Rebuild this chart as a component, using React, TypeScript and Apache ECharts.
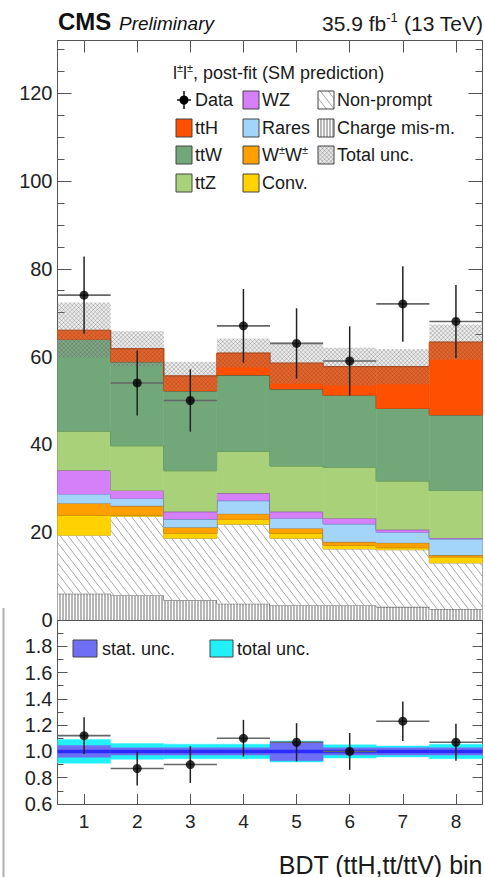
import React, { useEffect, useRef } from "react";
import * as echarts from "echarts";

// ---------------- data ----------------
const binLabels = ["1", "2", "3", "4", "5", "6", "7", "8"];
const chargeMisId = [6.0, 5.6, 4.5, 3.7, 3.3, 3.3, 3.0, 2.5];
const nonPrompt = [13.3, 18.0, 14.1, 18.1, 15.3, 12.9, 13.0, 10.5];
const conv = [4.6, 0.3, 1.2, 1.1, 1.2, 0.8, 0.5, 1.3];
const wpmwpm = [2.7, 2.1, 1.3, 1.3, 1.1, 0.8, 1.1, 0.5];
const rares = [2.1, 1.7, 1.9, 3.0, 2.3, 4.1, 2.4, 3.7];
const wz = [5.4, 1.8, 1.7, 1.7, 1.5, 1.3, 0.6, 0.2];
const ttZ = [8.9, 10.2, 9.3, 9.5, 10.4, 11.6, 11.1, 10.8];
const ttW = [20.9, 19.1, 18.2, 17.4, 17.5, 16.4, 16.5, 17.2];
const ttH = [2.1, 3.0, 3.4, 5.0, 5.9, 6.5, 9.5, 16.6];
const totalUnc = [6.3, 4.0, 3.2, 3.3, 4.7, 4.3, 4.0, 4.0];
const dataCounts = [74, 54, 50, 67, 63, 59, 72, 68];
const dataErr = [8.8, 7.4, 7.1, 8.4, 8.0, 7.9, 8.6, 8.3];
const ratioValues = [1.12, 0.87, 0.9, 1.1, 1.07, 1.0, 1.23, 1.07];
const ratioErr = [0.14, 0.13, 0.14, 0.14, 0.145, 0.14, 0.15, 0.14];
const statUncRatio = [0.045, 0.028, 0.028, 0.028, 0.07, 0.028, 0.028, 0.028];
const totalUncRatio = [0.09, 0.06, 0.055, 0.055, 0.08, 0.05, 0.042, 0.055];
const upperRange = [0, 132];
const lowerRange = [0.6, 2.0];

// ---------------- styling ----------------
const FONT = "'Liberation Sans', Arial, Helvetica, sans-serif";
const AXIS = "#555";
const GRID_L = 57.5;
const GRID_W = 425;
const UP_TOP = 40.5;
const UP_H = 579.5;
const LO_TOP = 620;
const LO_H = 184;

type Hatch = "v" | "d" | "x" | undefined;

function hatchLines(
  x0: number, y0: number, x1: number, y1: number,
  ux: number, uy: number, sp: number, stroke: string, lw: number
) {
  const len = Math.hypot(ux, uy);
  ux /= len; uy /= len;
  const nx = -uy, ny = ux;
  const ds = [x0 * nx + y0 * ny, x1 * nx + y0 * ny, x0 * nx + y1 * ny, x1 * nx + y1 * ny];
  const dmin = Math.min(...ds), dmax = Math.max(...ds);
  const out: any[] = [];
  for (let k = Math.ceil(dmin / sp); k * sp <= dmax; k++) {
    const d = k * sp;
    const px = nx * d, py = ny * d;
    let tmin = -Infinity, tmax = Infinity;
    if (Math.abs(ux) > 1e-9) {
      const a = (x0 - px) / ux, b = (x1 - px) / ux;
      tmin = Math.max(tmin, Math.min(a, b)); tmax = Math.min(tmax, Math.max(a, b));
    } else if (px < x0 || px > x1) continue;
    if (Math.abs(uy) > 1e-9) {
      const a = (y0 - py) / uy, b = (y1 - py) / uy;
      tmin = Math.max(tmin, Math.min(a, b)); tmax = Math.min(tmax, Math.max(a, b));
    } else if (py < y0 || py > y1) continue;
    if (tmax > tmin + 0.2) {
      out.push({
        type: "line",
        silent: true,
        shape: { x1: px + tmin * ux, y1: py + tmin * uy, x2: px + tmax * ux, y2: py + tmax * uy },
        style: { stroke, lineWidth: lw },
      });
    }
  }
  return out;
}

function hatchFor(kind: Hatch, x0: number, y0: number, x1: number, y1: number) {
  if (kind === "v") return hatchLines(x0, y0, x1, y1, 0, 1, 3, "#6e6e6e", 1);
  if (kind === "d") return hatchLines(x0, y0, x1, y1, 1, 1.3, 6.2, "#a8a8a8", 1);
  if (kind === "x")
    return [
      ...hatchLines(x0, y0, x1, y1, 1, 1, 3, "rgba(70,70,70,0.45)", 0.6),
      ...hatchLines(x0, y0, x1, y1, 1, -1, 3, "rgba(70,70,70,0.45)", 0.6),
    ];
  return [];
}

const layerDefs: { name: string; values: number[]; fill: string; edge: string; hatch?: Hatch }[] = [
  { name: "Charge mis-m.", values: chargeMisId, fill: "#ffffff", edge: "#555555", hatch: "v" },
  { name: "Non-prompt", values: nonPrompt, fill: "#ffffff", edge: "#9a9a9a", hatch: "d" },
  { name: "Conv.", values: conv, fill: "#ffd200", edge: "#a88300" },
  { name: "W±W±", values: wpmwpm, fill: "#ffa000", edge: "#9a5a00" },
  { name: "Rares", values: rares, fill: "#a3d5fa", edge: "#4f82aa" },
  { name: "WZ", values: wz, fill: "#d57ff8", edge: "#7a3a9e" },
  { name: "ttZ", values: ttZ, fill: "#a9d17a", edge: "#5e8a3a" },
  { name: "ttW", values: ttW, fill: "#72a77a", edge: "#365f3e" },
  { name: "ttH", values: ttH, fill: "#ff4f00", edge: "#b83800" },
];

function binBox(api: any, i: number, lo: number, hi: number) {
  const w = api.size([1, 0])[0];
  const pHi = api.coord([i, hi]);
  const pLo = api.coord([i, lo]);
  return { x0: pHi[0] - w / 2, x1: pHi[0] + w / 2, yT: pHi[1], yB: pLo[1], w, cx: pHi[0] };
}

function layerRenderer(L: (typeof layerDefs)[number]) {
  return (_params: any, api: any) => {
    const i = api.value(0), lo = api.value(1), hi = api.value(2), nxt = api.value(3);
    const b = binBox(api, i, lo, hi);
    const children: any[] = [
      {
        type: "rect",
        shape: { x: b.x0, y: b.yT, width: b.w, height: b.yB - b.yT },
        style: { fill: L.fill, stroke: L.hatch ? null : L.fill, lineWidth: 0.5 },
      },
      ...hatchFor(L.hatch, b.x0, b.yT, b.x1, b.yB),
    ];
    const pts: number[][] = [[b.x0, b.yT], [b.x1, b.yT]];
    if (nxt >= 0) pts.push([b.x1, api.coord([i, nxt])[1]]);
    children.push({ type: "polyline", shape: { points: pts }, style: { stroke: L.edge, lineWidth: 1.2, fill: "none" } });
    return { type: "group", children };
  };
}

function bandRenderer(fill: string, hatch: Hatch) {
  return (_params: any, api: any) => {
    const i = api.value(0);
    const b = binBox(api, i, api.value(1), api.value(2));
    return {
      type: "group",
      children: [
        { type: "rect", shape: { x: b.x0, y: b.yT, width: b.w, height: b.yB - b.yT }, style: { fill, stroke: hatch ? null : fill, lineWidth: 0.4 } },
        ...hatchFor(hatch, b.x0, b.yT, b.x1, b.yB),
      ],
    };
  };
}

function errRenderer(_params: any, api: any) {
  const i = api.value(0), v = api.value(1), e = api.value(2);
  const w = api.size([1, 0])[0];
  const p = api.coord([i, v]);
  const t = api.coord([i, v + e]);
  const d = api.coord([i, v - e]);
  return {
    type: "group",
    children: [
      { type: "line", shape: { x1: p[0] - w / 2, y1: p[1], x2: p[0] + w / 2, y2: p[1] }, style: { stroke: "#666", lineWidth: 1.6 } },
      { type: "line", shape: { x1: p[0], y1: t[1], x2: p[0], y2: d[1] }, style: { stroke: "#222", lineWidth: 1.5 } },
    ],
  };
}

function lineRenderer(_params: any, api: any) {
  const i = api.value(0), v = api.value(1);
  const w = api.size([1, 0])[0];
  const p = api.coord([i, v]);
  return { type: "line", shape: { x1: p[0] - w / 2, y1: p[1], x2: p[0] + w / 2, y2: p[1] }, style: { stroke: "#2b2bff", lineWidth: 3.5 } };
}

function buildOption() {
  // stacked layers
  let base = binLabels.map(() => 0);
  const stackSeries = layerDefs.map((L) => {
    const lo = base.slice();
    const hi = base.map((b, i) => b + L.values[i]);
    base = hi;
    return {
      type: "custom",
      name: L.name,
      xAxisIndex: 0,
      yAxisIndex: 0,
      z: 2,
      silent: true,
      renderItem: layerRenderer(L),
      data: hi.map((h, i) => [i, lo[i], h, i < hi.length - 1 ? hi[i + 1] : -1]),
    };
  });
  const totals = base;

  const upperAxisY = (pos: string, labels: boolean) => ({
    gridIndex: 0,
    type: "value",
    position: pos,
    min: upperRange[0],
    max: upperRange[1],
    interval: 20,
    axisLine: { show: true, lineStyle: { color: AXIS, width: 1 } },
    axisTick: { show: true, inside: true, length: 14, lineStyle: { color: AXIS } },
    minorTick: { show: true, splitNumber: 4, length: 7, lineStyle: { color: AXIS } },
    splitLine: { show: false },
    minorSplitLine: { show: false },
    axisLabel: { show: labels, fontSize: 20, color: "#222", margin: 5, showMaxLabel: false, fontFamily: FONT },
  });
  const lowerAxisY = (pos: string, labels: boolean) => ({
    gridIndex: 1,
    type: "value",
    position: pos,
    min: lowerRange[0],
    max: lowerRange[1],
    interval: 0.2,
    axisLine: { show: true, lineStyle: { color: AXIS, width: 1 } },
    axisTick: { show: true, inside: true, length: 10, lineStyle: { color: AXIS } },
    minorTick: { show: true, splitNumber: 2, length: 6, lineStyle: { color: AXIS } },
    splitLine: { show: false },
    minorSplitLine: { show: false },
    axisLabel: {
      show: labels, fontSize: 20, color: "#222", margin: 5, showMaxLabel: false, fontFamily: FONT,
      formatter: (v: number) => v.toFixed(1),
    },
  });
  const catAxis = (grid: number, pos: string, labels: boolean, tickLen: number, extra: any = {}) => ({
    gridIndex: grid,
    type: "category",
    position: pos,
    data: binLabels,
    boundaryGap: true,
    axisLine: { show: true, onZero: false, lineStyle: { color: AXIS, width: 1 } },
    axisTick: { show: true, inside: true, alignWithLabel: true, length: tickLen, lineStyle: { color: AXIS } },
    axisLabel: { show: labels, fontSize: 19, color: "#222", margin: 8, fontFamily: FONT },
    splitLine: { show: false },
    ...extra,
  });

  const legendRows = [100, 128, 155, 183];
  const colBox = [176, 243, 318];
  const colText = [195, 262, 337];
  const txt = (x: number, y: number, text: string, size = 18, extra: any = {}) => ({
    type: "text",
    x,
    y,
    silent: true,
    z: 20,
    style: {
      text,
      fontSize: size,
      fontFamily: FONT,
      fill: "#1a1a1a",
      verticalAlign: "middle",
      textVerticalAlign: "middle",
      ...extra,
    },
  });
  const box = (x: number, yc: number, fill: string, hatch?: Hatch, w = 16, h = 18) => {
    const y0 = yc - h / 2;
    return [
      { type: "rect", z: 20, silent: true, shape: { x, y: y0, width: w, height: h }, style: { fill, stroke: null } },
      ...hatchFor(hatch, x, y0, x + w, y0 + h).map((e) => ({ ...e, z: 20 })),
      { type: "rect", z: 21, silent: true, shape: { x, y: y0, width: w, height: h }, style: { fill: "none", stroke: "#444", lineWidth: 1 } },
    ];
  };
  const fillOf = (n: string) => layerDefs.find((l) => l.name === n)!;

  const graphic: any[] = [
    txt(58, 21, "CMS", 24, { fontWeight: "bold", fill: "#111" }),
    txt(119, 23, "Preliminary", 19, { fontStyle: "italic", fill: "#111" }),
    {
      type: "text", x: 483, y: 23, silent: true, z: 20,
      style: {
        text: "{m|35.9 fb}{s|-1}{m| (13 TeV)}",
        align: "right", textAlign: "right", verticalAlign: "middle", textVerticalAlign: "middle",
        rich: {
          m: { fontSize: 21, fontFamily: FONT, fill: "#1a1a1a", lineHeight: 24 },
          s: { fontSize: 13, fontFamily: FONT, fill: "#1a1a1a", verticalAlign: "top", lineHeight: 14 },
        },
      },
    },
    {
      type: "text", x: 173, y: 73, silent: true, z: 20,
      style: {
        text: "{m|l}{s|±}{m|l}{s|±}{m|, post-fit (SM prediction)}",
        verticalAlign: "middle", textVerticalAlign: "middle",
        rich: {
          m: { fontSize: 18, fontFamily: FONT, fill: "#1a1a1a", lineHeight: 22 },
          s: { fontSize: 11, fontFamily: FONT, fill: "#1a1a1a", verticalAlign: "top", lineHeight: 12 },
        },
      },
    },
    // Data marker
    { type: "line", z: 20, silent: true, shape: { x1: 184, y1: 91, x2: 184, y2: 109 }, style: { stroke: "#111", lineWidth: 1.5 } },
    { type: "line", z: 20, silent: true, shape: { x1: 177, y1: 100, x2: 191, y2: 100 }, style: { stroke: "#111", lineWidth: 1.5 } },
    { type: "circle", z: 21, silent: true, shape: { cx: 184, cy: 100, r: 4.5 }, style: { fill: "#000" } },
    txt(colText[0], legendRows[0], "Data"),
    ...box(colBox[0], legendRows[1], fillOf("ttH").fill),
    txt(colText[0], legendRows[1], "ttH"),
    ...box(colBox[0], legendRows[2], fillOf("ttW").fill),
    txt(colText[0], legendRows[2], "ttW"),
    ...box(colBox[0], legendRows[3], fillOf("ttZ").fill),
    txt(colText[0], legendRows[3], "ttZ"),
    ...box(colBox[1], legendRows[0], fillOf("WZ").fill),
    txt(colText[1], legendRows[0], "WZ"),
    ...box(colBox[1], legendRows[1], fillOf("Rares").fill),
    txt(colText[1], legendRows[1], "Rares"),
    ...box(colBox[1], legendRows[2], fillOf("W±W±").fill),
    {
      type: "text", x: colText[1], y: legendRows[2], silent: true, z: 20,
      style: {
        text: "{m|W}{s|±}{m|W}{s|±}",
        verticalAlign: "middle", textVerticalAlign: "middle",
        rich: {
          m: { fontSize: 18, fontFamily: FONT, fill: "#1a1a1a", lineHeight: 22 },
          s: { fontSize: 11, fontFamily: FONT, fill: "#1a1a1a", verticalAlign: "top", lineHeight: 12 },
        },
      },
    },
    ...box(colBox[1], legendRows[3], fillOf("Conv.").fill),
    txt(colText[1], legendRows[3], "Conv."),
    ...box(colBox[2], legendRows[0], "#fff", "d"),
    txt(colText[2], legendRows[0], "Non-prompt"),
    ...box(colBox[2], legendRows[1], "#fff", "v"),
    txt(colText[2], legendRows[1], "Charge mis-m."),
    ...box(colBox[2], legendRows[2], "rgba(170,170,170,0.3)", "x"),
    txt(colText[2], legendRows[2], "Total unc."),
    // ratio legend
    ...box(73, 648.5, "#6f6ff5", undefined, 24, 17),
    txt(102, 648.5, "stat. unc."),
    ...box(210, 648.5, "#22f0f8", undefined, 23, 17),
    txt(237, 648.5, "total unc."),
    // cropped frame edge at the lower left
    { type: "line", silent: true, shape: { x1: 3.5, y1: 608, x2: 3.5, y2: 877 }, style: { stroke: "#b0b0b0", lineWidth: 2 } },
  ];

  return {
    animation: false,
    backgroundColor: "#ffffff",
    textStyle: { fontFamily: FONT },
    grid: [
      { left: GRID_L, top: UP_TOP, width: GRID_W, height: UP_H },
      { left: GRID_L, top: LO_TOP, width: GRID_W, height: LO_H },
    ],
    xAxis: [
      catAxis(0, "bottom", false, 9),
      catAxis(0, "top", false, 12),
      catAxis(1, "bottom", true, 10, {
        name: "BDT (ttH,tt/ttV) bin",
        nameLocation: "end",
        nameGap: 0,
        nameTextStyle: { fontSize: 25, color: "#1a1a1a", align: "right", verticalAlign: "top", padding: [48, 0, 0, 0], fontFamily: FONT },
      }),
    ],
    yAxis: [upperAxisY("left", true), upperAxisY("right", false), lowerAxisY("left", true), lowerAxisY("right", false)],
    graphic,
    series: [
      ...stackSeries,
      {
        type: "custom",
        name: "Total unc.",
        xAxisIndex: 0,
        yAxisIndex: 0,
        z: 3,
        silent: true,
        renderItem: bandRenderer("rgba(170,170,170,0.22)", "x"),
        data: totals.map((t, i) => [i, t - totalUnc[i], t + totalUnc[i]]),
      },
      {
        type: "custom",
        name: "Data errors",
        xAxisIndex: 0,
        yAxisIndex: 0,
        z: 4,
        silent: true,
        renderItem: errRenderer,
        data: dataCounts.map((v, i) => [i, v, dataErr[i]]),
      },
      {
        type: "scatter",
        name: "Data",
        xAxisIndex: 0,
        yAxisIndex: 0,
        z: 5,
        symbol: "circle",
        symbolSize: 9,
        itemStyle: { color: "#000" },
        data: dataCounts.map((v, i) => [i, v]),
      },
      {
        type: "custom",
        name: "total unc.",
        xAxisIndex: 2,
        yAxisIndex: 2,
        z: 2,
        silent: true,
        renderItem: bandRenderer("#22f0f8", undefined),
        data: totalUncRatio.map((u, i) => [i, 1 - u, 1 + u]),
      },
      {
        type: "custom",
        name: "stat. unc.",
        xAxisIndex: 2,
        yAxisIndex: 2,
        z: 3,
        silent: true,
        renderItem: bandRenderer("#6f6ff5", undefined),
        data: statUncRatio.map((u, i) => [i, 1 - u, 1 + u]),
      },
      {
        type: "custom",
        name: "unity",
        xAxisIndex: 2,
        yAxisIndex: 2,
        z: 3,
        silent: true,
        renderItem: lineRenderer,
        data: binLabels.map((_, i) => [i, 1]),
      },
      {
        type: "custom",
        name: "Ratio errors",
        xAxisIndex: 2,
        yAxisIndex: 2,
        z: 4,
        silent: true,
        renderItem: errRenderer,
        data: ratioValues.map((v, i) => [i, v, ratioErr[i]]),
      },
      {
        type: "scatter",
        name: "Data/pred.",
        xAxisIndex: 2,
        yAxisIndex: 2,
        z: 5,
        symbol: "circle",
        symbolSize: 9,
        itemStyle: { color: "#000" },
        data: ratioValues.map((v, i) => [i, v]),
      },
    ],
  };
}

export default function App() {
  const ref = useRef<HTMLDivElement>(null);
  useEffect(() => {
    const el = ref.current;
    if (!el) return;
    const chart = echarts.init(el, null, { renderer: "svg" });
    chart.setOption(buildOption() as any);
    return () => chart.dispose();
  }, []);
  return (
    <div
      ref={ref}
      style={{ position: "fixed", left: 0, top: 0, width: 485, height: 877, background: "#fff" }}
    />
  );
}
